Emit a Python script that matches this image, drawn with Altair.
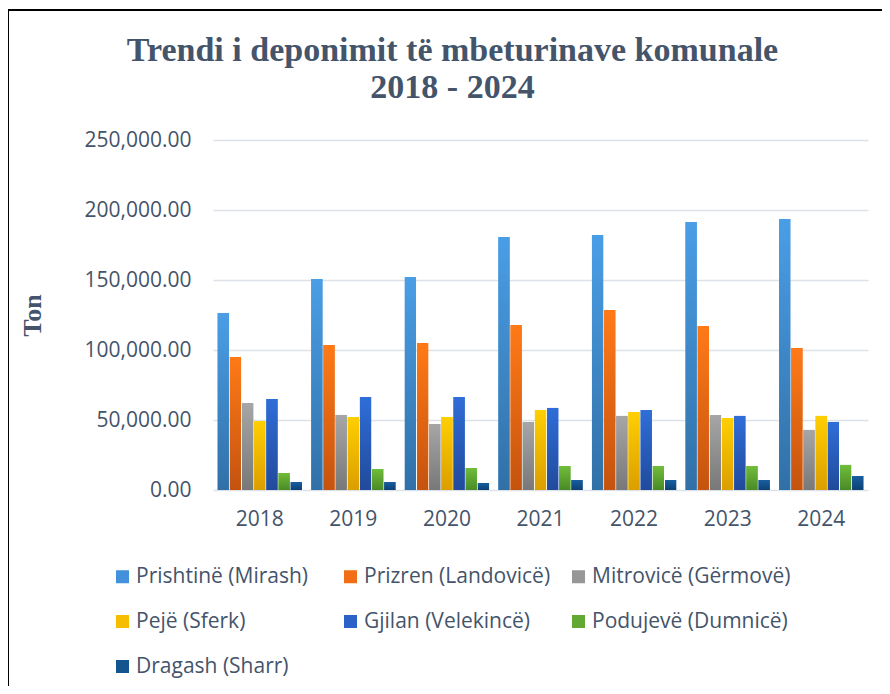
import altair as alt
import pandas as pd

years = ["2018", "2019", "2020", "2021", "2022", "2023", "2024"]
series = ["Prishtinë (Mirash)", "Prizren (Landovicë)", "Mitrovicë (Gërmovë)",
          "Pejë (Sferk)", "Gjilan (Velekincë)", "Podujevë (Dumnicë)", "Dragash (Sharr)"]

prishtine = [126400, 150700, 152100, 180700, 182100, 191400, 193600]
prizren = [95000, 103600, 105000, 117900, 128600, 117100, 101400]
mitrovice = [62100, 53600, 47100, 48600, 52900, 53600, 42900]
peje = [49300, 52100, 52100, 57100, 55700, 51400, 52900]
gjilan = [65000, 66400, 66400, 58600, 57100, 52900, 48600]
podujeve = [12100, 15000, 15700, 17100, 17100, 17100, 17900]
dragash = [5700, 5700, 5000, 7100, 7100, 7100, 10000]

values = [prishtine, prizren, mitrovice, peje, gjilan, podujeve, dragash]

flat_colors = ["#4291DA", "#F26E16", "#979797", "#F6BE00", "#2B62C8", "#62A933", "#14558F"]
top_colors = ["#4A9EE6", "#FF7A17", "#A6A6A6", "#FFCF00", "#2F6ED8", "#70BD3A", "#175FA0"]
bot_colors = ["#3170A7", "#C4530F", "#787878", "#DB9E00", "#214A9B", "#4A8A26", "#0E4175"]

TXT = "#44546A"

rows = []
for s, vals in zip(series, values):
    for yr, v in zip(years, vals):
        rows.append({"year": yr, "series": s, "value": v})
df = pd.DataFrame(rows)

x_scale = alt.Scale(domain=years, paddingInner=0.1, paddingOuter=0.05)
xo_scale = alt.Scale(domain=series, paddingInner=0.08)
y_scale = alt.Scale(domain=[0, 250000])

x_enc = alt.X("year:N", sort=years, title=None, scale=x_scale,
              axis=alt.Axis(labelAngle=0, ticks=False, domain=False, grid=False,
                            labelPadding=18, labelFontSize=21, labelFont="Open Sans",
                            labelColor=TXT))
y_enc = alt.Y("value:Q", scale=y_scale, title="Ton",
              axis=alt.Axis(values=[0, 50000, 100000, 150000, 200000, 250000],
                            format=",.2f", ticks=False, domain=False,
                            labelPadding=22, labelFontSize=21, labelFont="Open Sans",
                            labelColor=TXT, gridColor="#DDE1E8", gridWidth=1.5,
                            titleFont="Liberation Serif", titleFontSize=26,
                            titleFontWeight="bold", titleColor=TXT, titlePadding=38))
xo_enc = alt.XOffset("series:N", sort=series, scale=xo_scale)

base = alt.Chart(df).mark_bar().encode(
    x=x_enc, xOffset=xo_enc, y=y_enc,
    color=alt.Color("series:N", sort=series,
                    scale=alt.Scale(domain=series, range=flat_colors),
                    legend=alt.Legend(title=None, orient="none", legendX=-101, legendY=426,
                                      direction="horizontal",
                                      columns=3, gridAlign="all", symbolType="square",
                                      symbolSize=169, symbolStrokeWidth=0,
                                      labelFontSize=21, labelFont="Open Sans",
                                      labelColor=TXT, labelOffset=3, labelLimit=300,
                                      columnPadding=5, rowPadding=23))
)

layers = [base]
for s, tc, bc in zip(series, top_colors, bot_colors):
    grad = alt.LinearGradient(
        gradient="linear",
        stops=[alt.GradientStop(color=tc, offset=0), alt.GradientStop(color=bc, offset=1)],
        x1=0, x2=0, y1=0, y2=1,
    )
    layers.append(
        alt.Chart(df).transform_filter(alt.datum.series == s).mark_bar(color=grad).encode(
            x=x_enc, xOffset=xo_enc, y=y_enc,
        )
    )

border = alt.Chart(pd.DataFrame({"a": [0]})).mark_rect(
    fillOpacity=0, stroke="black", strokeWidth=2
).encode(x=alt.value(-205), x2=alt.value(700), y=alt.value(-130), y2=alt.value(600))
layers.append(border)

chart = alt.layer(*layers).properties(
    width=655, height=350,
    autosize=alt.AutoSizeParams(type="none"),
    padding={"left": 205, "top": 132, "right": 14, "bottom": 196},
    title=alt.TitleParams(
        text=["Trendi i deponimit të mbeturinave komunale", "2018 - 2024"],
        font="Liberation Serif", fontSize=34, fontWeight="bold", color=TXT,
        anchor="middle", dx=-88, offset=-130, lineHeight=37, baseline="bottom",
    ),
).configure_view(stroke=None)

chart.save("out.html", embed_options={"renderer": "svg", "actions": False})
